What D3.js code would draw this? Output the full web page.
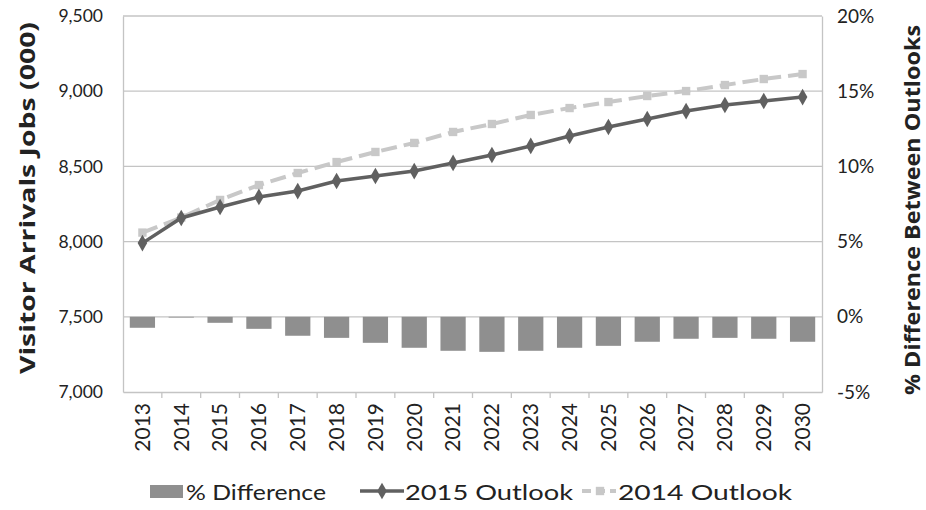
<!DOCTYPE html>
<html><head><meta charset="utf-8">
<script src="https://cdn.jsdelivr.net/npm/d3@7"></script>
<style>body{margin:0;background:#fff}svg{display:block}text{font-family:Lato,"Open Sans",sans-serif;fill:#222}</style>
</head><body><svg id="c" width="926" height="510"></svg>
<script>
const years = ["2013","2014","2015","2016","2017","2018","2019","2020","2021","2022","2023","2024","2025","2026","2027","2028","2029","2030"];
const outlook2015 = [7990,8157,8230,8297,8336,8403,8436,8469,8523,8576,8636,8702,8762,8815,8868,8908,8935,8961];
const outlook2014 = [8060,8160,8277,8376,8456,8529,8596,8656,8729,8782,8842,8888,8928,8968,9001,9041,9081,9114];
const pctDiff = [-0.73,-0.05,-0.4,-0.8,-1.26,-1.4,-1.73,-2.06,-2.26,-2.33,-2.26,-2.06,-1.93,-1.66,-1.46,-1.4,-1.46,-1.66];
const leftTicks = [7000,7500,8000,8500,9000,9500];
const rightTicks = [-5,0,5,10,15,20];

const svg = d3.select("#c");
const L=123, R=822, T=16, B=392;
const x = d3.scaleBand().domain(years).range([L,R]).paddingInner(0.35).paddingOuter(0.175);
const xb = d3.scaleBand().domain(years).range([L,R]);
const yL = d3.scaleLinear().domain([7000,9500]).range([B,T]);
const yR = d3.scaleLinear().domain([-5,20]).range([B,T]);
const GRID="#c4c4c4", DARK="#606060", LIGHT="#c8c8c8", BAR="#8f8f8f";

// gridlines
svg.append("g").selectAll("line").data(leftTicks.slice(1)).join("line")
  .attr("x1",L).attr("x2",R).attr("y1",d=>yL(d)).attr("y2",d=>yL(d))
  .attr("stroke",GRID).attr("stroke-width",1.3);

// axes
const gl = svg.append("g").attr("transform",`translate(${L},0)`)
  .call(d3.axisLeft(yL).tickValues(leftTicks).tickFormat(d3.format(",")).tickSize(0).tickPadding(20));
gl.select(".domain").attr("stroke",GRID).attr("stroke-width",1.3);
gl.selectAll("text").style("font-size","17.5px").attr("fill","#222");

const gr = svg.append("g").attr("transform",`translate(${R},0)`)
  .call(d3.axisRight(yR).tickValues(rightTicks).tickFormat(d=>d+"%").tickSize(0).tickPadding(15));
gr.select(".domain").attr("stroke",GRID).attr("stroke-width",1.3);
gr.selectAll("text").style("font-size","19px").attr("fill","#222");

const gx = svg.append("g").attr("transform",`translate(0,${B})`)
  .call(d3.axisBottom(xb).tickSize(0).tickPadding(10));
gx.select(".domain").attr("stroke",GRID).attr("stroke-width",1.3);
gx.selectAll("text").style("font-size","21px").attr("fill","#222")
  .attr("text-anchor","end").attr("x",-11).attr("y",0).attr("dy","0.35em")
  .attr("transform","rotate(-90)");
// category separator ticks
svg.append("g").selectAll("line").data(years.slice(1)).join("line")
  .attr("x1",d=>xb(d)).attr("x2",d=>xb(d)).attr("y1",B).attr("y2",B+6)
  .attr("stroke",GRID).attr("stroke-width",1.3);

// bars
svg.append("g").selectAll("rect").data(pctDiff).join("rect")
  .attr("x",(d,i)=>x(years[i])).attr("width",x.bandwidth())
  .attr("y",d=>yR(Math.max(0,d))).attr("height",d=>Math.abs(yR(d)-yR(0)))
  .attr("fill",BAR);

const line = d3.line().x((d,i)=>xb(years[i])+xb.bandwidth()/2).y(d=>yL(d));
// 2014 line (light dashed)
svg.append("path").datum(outlook2014).attr("d",line).attr("fill","none")
  .attr("stroke",LIGHT).attr("stroke-width",4).attr("stroke-dasharray","16,7");
svg.append("g").selectAll("path").data(outlook2014).join("path")
  .attr("d",d3.symbol(d3.symbolSquare,70)())
  .attr("transform",(d,i)=>`translate(${xb(years[i])+xb.bandwidth()/2},${yL(d)})`)
  .attr("fill",LIGHT);

// 2015 line
svg.append("path").datum(outlook2015).attr("d",line).attr("fill","none")
  .attr("stroke",DARK).attr("stroke-width",3.5);
svg.append("g").selectAll("path").data(outlook2015).join("path")
  .attr("d",d3.symbol(d3.symbolDiamond,80)())
  .attr("transform",(d,i)=>`translate(${xb(years[i])+xb.bandwidth()/2},${yL(d)})`)
  .attr("fill",DARK);

// axis titles
svg.append("text").attr("transform",`translate(35,198) rotate(-90)`).attr("text-anchor","middle")
  .style("font-family","'Open Sans',sans-serif").style("font-size","21px").style("font-weight","bold")
  .attr("textLength",352).attr("lengthAdjust","spacingAndGlyphs").text("Visitor Arrivals Jobs (000)");
svg.append("text").attr("transform",`translate(920,210) rotate(-90)`).attr("text-anchor","middle")
  .style("font-family","'Open Sans',sans-serif").style("font-size","21px").style("font-weight","bold")
  .attr("textLength",370).attr("lengthAdjust","spacingAndGlyphs").text("% Difference Between Outlooks");

// legend
const lg = svg.append("g");
lg.append("rect").attr("x",150).attr("y",485).attr("width",33).attr("height",13).attr("fill",BAR);
lg.append("text").attr("x",186).attr("y",500).style("font-size","21px")
  .attr("textLength",140).attr("lengthAdjust","spacingAndGlyphs").text("% Difference");
lg.append("line").attr("x1",360).attr("x2",404).attr("y1",491).attr("y2",491).attr("stroke",DARK).attr("stroke-width",3.5);
lg.append("path").attr("d",d3.symbol(d3.symbolDiamond,80)()).attr("transform","translate(382,491)").attr("fill",DARK);
lg.append("text").attr("x",405).attr("y",500).style("font-size","21px")
  .attr("textLength",168).attr("lengthAdjust","spacingAndGlyphs").text("2015 Outlook");
lg.append("line").attr("x1",582).attr("x2",616).attr("y1",491).attr("y2",491).attr("stroke",LIGHT).attr("stroke-width",4).attr("stroke-dasharray","9,5");
lg.append("path").attr("d",d3.symbol(d3.symbolSquare,70)()).attr("transform","translate(600,491)").attr("fill",LIGHT);
lg.append("text").attr("x",618).attr("y",500).style("font-size","21px")
  .attr("textLength",174).attr("lengthAdjust","spacingAndGlyphs").text("2014 Outlook");
</script></body></html>
